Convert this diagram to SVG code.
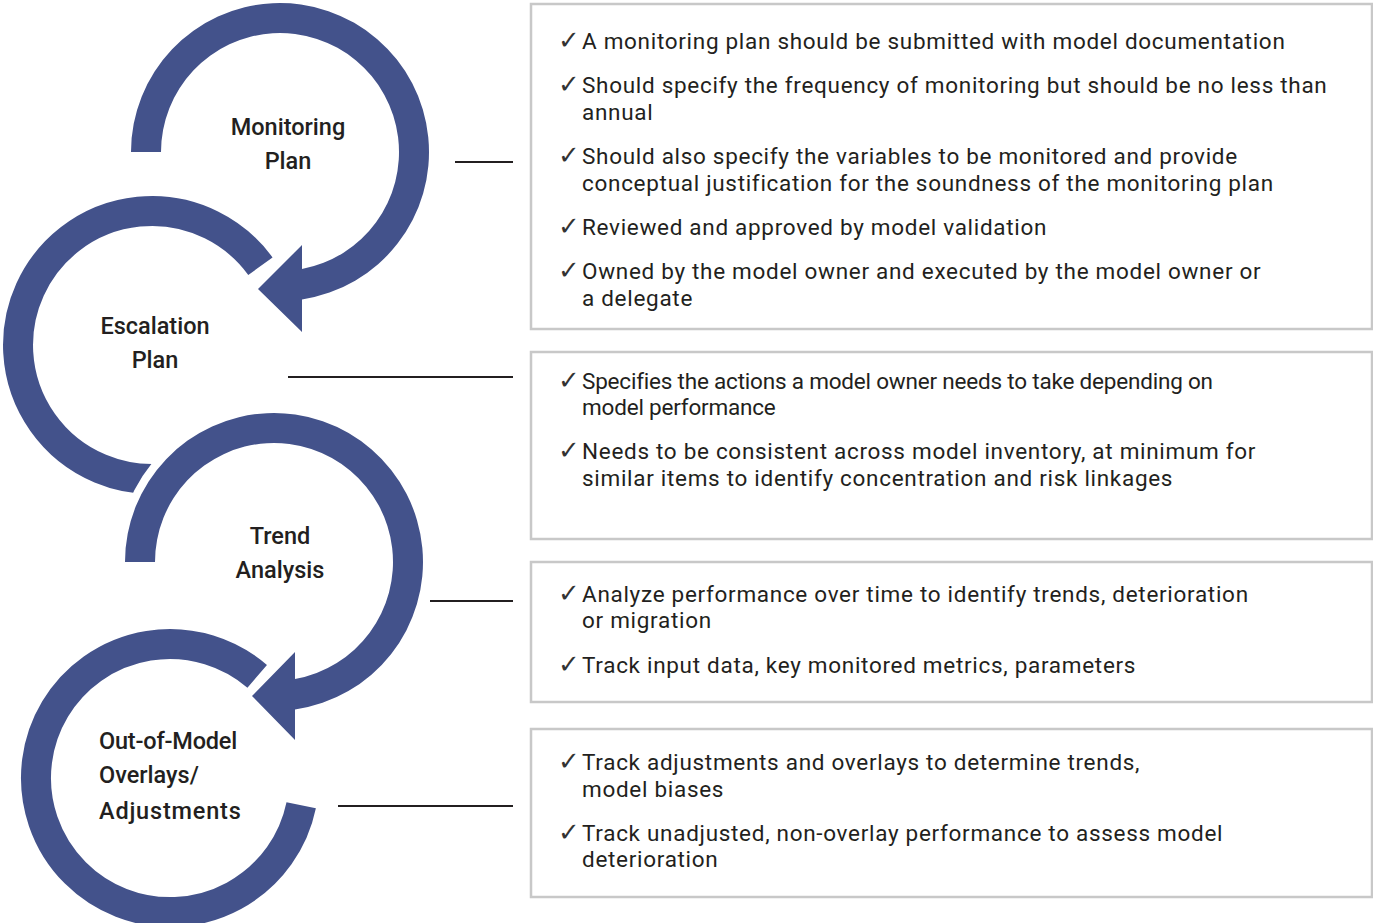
<svg xmlns="http://www.w3.org/2000/svg" width="1373" height="923" viewBox="0 0 1373 923">
<style>
.ring{fill:#43528b}
.arc{fill:none;stroke:#43528b;stroke-width:30;stroke-linecap:butt}
.band{fill:none;stroke:#ffffff;stroke-width:46}
.lbl{font-family:Roboto,"Liberation Sans",sans-serif;font-weight:500;font-size:23.5px;fill:#231f20}
.box{fill:#ffffff;stroke:#c8c8c8;stroke-width:2.5}
.txt{font-family:Roboto,"Liberation Sans",sans-serif;font-size:22.5px;letter-spacing:0.7px;fill:#231f20}
.ck{font-family:"DejaVu Sans",sans-serif;font-size:26px;letter-spacing:0;fill:#333333}
.cond{letter-spacing:-0.2px}
.conn{stroke:#231f20;stroke-width:2;fill:none}
</style>
<rect width="1373" height="923" fill="#ffffff"/>

<g id="escalation">
<path class="arc" d="M 260.4 266.2 A 134 134 0 1 0 163.7 478.5"/>
<text class="lbl" text-anchor="middle" x="155" y="334">Escalation</text>
<text class="lbl" text-anchor="middle" x="155" y="368">Plan</text>
</g>

<g id="monitoring">
<path class="ring" d="M 131 152 A 149 149 0 1 1 302 299.4 L 302 332 L 258 289 L 302 245 L 302 269 A 119 119 0 1 0 161 152 Z"/>
<text class="lbl" text-anchor="middle" x="288" y="135">Monitoring</text>
<text class="lbl" text-anchor="middle" x="288" y="169">Plan</text>
</g>

<g id="trend">
<path class="band" d="M 140 562 A 134 134 0 0 1 274 428"/>
<path class="ring" d="M 125 562 A 149 149 0 1 1 295 709.5 L 295 740 L 252 696 L 295 652 L 295 679.1 A 119 119 0 1 0 155 562 Z"/>
<text class="lbl" text-anchor="middle" x="280" y="544">Trend</text>
<text class="lbl" text-anchor="middle" x="280" y="578">Analysis</text>
</g>

<g id="outofmodel">
<path class="arc" d="M 257.2 676.3 A 134 134 0 1 0 301.2 805.2"/>
<text class="lbl" x="99" y="749" letter-spacing="-0.2">Out-of-Model</text>
<text class="lbl" x="99" y="783">Overlays/</text>
<text class="lbl" x="99" y="819" letter-spacing="0.8">Adjustments</text>
</g>

<g id="connectors">
<line class="conn" x1="455" y1="162" x2="513" y2="162"/>
<line class="conn" x1="288" y1="377" x2="513" y2="377"/>
<line class="conn" x1="430" y1="601" x2="513" y2="601"/>
<line class="conn" x1="338" y1="806" x2="513" y2="806"/>
</g>

<g id="box-monitoring">
<rect class="box" x="531" y="4" width="841" height="325"/>
<text class="txt" y="49"><tspan class="ck" x="558">✓</tspan><tspan x="582">A monitoring plan should be submitted with model documentation</tspan></text>
<text class="txt" y="93"><tspan class="ck" x="558">✓</tspan><tspan x="582">Should specify the frequency of monitoring but should be no less than</tspan></text>
<text class="txt" x="582" y="120">annual</text>
<text class="txt" y="164"><tspan class="ck" x="558">✓</tspan><tspan x="582">Should also specify the variables to be monitored and provide</tspan></text>
<text class="txt" x="582" y="191">conceptual justification for the soundness of the monitoring plan</text>
<text class="txt" y="235"><tspan class="ck" x="558">✓</tspan><tspan x="582">Reviewed and approved by model validation</tspan></text>
<text class="txt" y="279"><tspan class="ck" x="558">✓</tspan><tspan x="582">Owned by the model owner and executed by the model owner or</tspan></text>
<text class="txt" x="582" y="306">a delegate</text>
</g>

<g id="box-escalation">
<rect class="box" x="531" y="352" width="841" height="187"/>
<text class="txt" y="389"><tspan class="ck" x="558">✓</tspan><tspan class="cond" x="582">Specifies the actions a model owner needs to take depending on</tspan></text>
<text class="txt cond" x="582" y="415">model performance</text>
<text class="txt" y="459"><tspan class="ck" x="558">✓</tspan><tspan x="582">Needs to be consistent across model inventory, at minimum for</tspan></text>
<text class="txt" x="582" y="486">similar items to identify concentration and risk linkages</text>
</g>

<g id="box-trend">
<rect class="box" x="531" y="562" width="841" height="140"/>
<text class="txt" y="602"><tspan class="ck" x="558">✓</tspan><tspan x="582">Analyze performance over time to identify trends, deterioration</tspan></text>
<text class="txt" x="582" y="628">or migration</text>
<text class="txt" y="673"><tspan class="ck" x="558">✓</tspan><tspan x="582">Track input data, key monitored metrics, parameters</tspan></text>
</g>

<g id="box-outofmodel">
<rect class="box" x="531" y="729" width="841" height="168"/>
<text class="txt" y="770"><tspan class="ck" x="558">✓</tspan><tspan x="582">Track adjustments and overlays to determine trends,</tspan></text>
<text class="txt" x="582" y="797">model biases</text>
<text class="txt" y="841"><tspan class="ck" x="558">✓</tspan><tspan x="582">Track unadjusted, non-overlay performance to assess model</tspan></text>
<text class="txt" x="582" y="867">deterioration</text>
</g>
</svg>
